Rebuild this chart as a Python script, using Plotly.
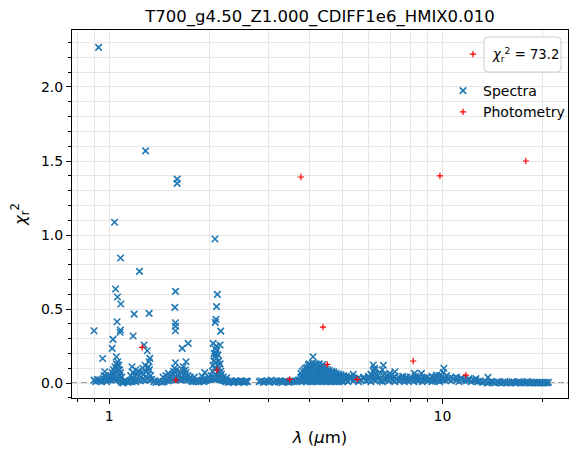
import plotly.graph_objects as go

# ---------------- data ----------------
# baseline of the spectral chi^2 (dense, low values)
wl_seg1 = [0.90, 0.91, 0.92, 0.93, 0.94, 0.95, 0.96, 0.97, 0.98, 0.99, 1.00, 1.01, 1.02, 1.03, 1.04, 1.05,
           1.06, 1.07, 1.08, 1.09, 1.10, 1.11, 1.12, 1.13, 1.14, 1.15, 1.16, 1.17, 1.18, 1.19, 1.20]
chi_seg1 = [0.02, 0.01, 0.025, 0.015, 0.02, 0.01, 0.03, 0.02, 0.01, 0.02, 0.025, 0.02, 0.03, 0.025, 0.03, 0.02,
            0.03, 0.025, 0.015, 0.005, 0.0, 0.01, 0.015, 0.01, 0.005, 0.015, 0.02, 0.01, 0.02, 0.015, 0.01]

wl_seg2 = [1.22, 1.24, 1.26, 1.28, 1.30, 1.32, 1.34,
           1.36, 1.38, 1.40, 1.42, 1.44, 1.46, 1.48, 1.50,
           1.52, 1.54, 1.56, 1.58, 1.60, 1.62, 1.64, 1.66, 1.68, 1.70, 1.72, 1.74, 1.76,
           1.78, 1.80, 1.82, 1.84, 1.86, 1.88, 1.90, 1.92, 1.94, 1.96, 1.98,
           2.00, 2.02, 2.04, 2.06, 2.08, 2.10, 2.12, 2.14, 2.16, 2.18, 2.20,
           2.22, 2.24, 2.26, 2.28, 2.30, 2.32, 2.34, 2.36, 2.38, 2.40, 2.42, 2.44, 2.46, 2.48, 2.50,
           2.52, 2.54, 2.56, 2.58, 2.60]
chi_seg2 = [0.02, 0.015, 0.025, 0.02, 0.03, 0.02, 0.025,
            0.01, 0.005, 0.01, 0.015, 0.005, 0.01, 0.02, 0.015,
            0.02, 0.025, 0.03, 0.02, 0.03, 0.025, 0.02, 0.03, 0.025, 0.03, 0.02, 0.025, 0.015,
            0.01, 0.015, 0.01, 0.02, 0.01, 0.015, 0.02, 0.01, 0.015, 0.02, 0.025,
            0.03, 0.025, 0.03, 0.03, 0.025, 0.03, 0.03, 0.025, 0.03, 0.02, 0.02,
            0.015, 0.01, 0.015, 0.005, 0.01, 0.015, 0.01, 0.005, 0.01, 0.015, 0.01, 0.005, 0.01, 0.015, 0.01,
            0.01, 0.005, 0.01, 0.015, 0.01]

wl_seg3 = [2.82, 2.86, 2.90, 2.94, 2.98, 3.02, 3.06, 3.10, 3.14, 3.18, 3.22, 3.26, 3.30, 3.34, 3.38, 3.42,
           3.46, 3.50, 3.54, 3.58, 3.62, 3.66, 3.70,
           3.74, 3.78, 3.82, 3.86, 3.90, 3.94, 3.98, 4.02, 4.06, 4.10, 4.14, 4.18, 4.22, 4.26, 4.30, 4.34,
           4.38, 4.42, 4.46, 4.50, 4.54, 4.58, 4.62, 4.66, 4.70, 4.74, 4.78, 4.82, 4.86, 4.90, 4.94, 4.98, 5.02]
chi_seg3 = [0.01, 0.015, 0.005, 0.01, 0.015, 0.01, 0.02, 0.01, 0.005, 0.015, 0.01, 0.015, 0.005, 0.01, 0.015,
            0.01, 0.005, 0.01, 0.015, 0.01, 0.015, 0.01, 0.02,
            0.02, 0.01, 0.02, 0.015, 0.01, 0.02, 0.015, 0.01, 0.02, 0.01, 0.015, 0.02, 0.01, 0.015, 0.02, 0.01,
            0.02, 0.015, 0.01, 0.02, 0.015, 0.01, 0.02, 0.01, 0.015, 0.02, 0.01, 0.015, 0.02, 0.01, 0.02, 0.015, 0.01]

wl_seg4 = [5.1, 5.2, 5.3, 5.4, 5.5, 5.6, 5.7, 5.8, 5.9, 6.0, 6.1, 6.2, 6.3, 6.4, 6.5, 6.6, 6.7, 6.8, 6.9, 7.0,
           7.1, 7.2, 7.3, 7.4, 7.5, 7.6, 7.7, 7.8, 7.9, 8.0, 8.1, 8.2, 8.3, 8.4, 8.5, 8.6, 8.7, 8.8, 8.9, 9.0,
           9.1, 9.2, 9.3, 9.4, 9.5, 9.6, 9.7, 9.8, 9.9, 10.0]
chi_seg4 = [0.02, 0.01, 0.03, 0.015, 0.025, 0.01, 0.02, 0.03, 0.015, 0.02,
            0.01, 0.025, 0.02, 0.03, 0.015, 0.01, 0.02, 0.025, 0.015, 0.03,
            0.02, 0.01, 0.025, 0.015, 0.02, 0.03, 0.01, 0.02, 0.015, 0.025,
            0.02, 0.01, 0.03, 0.02, 0.015, 0.025, 0.01, 0.02, 0.03, 0.015,
            0.02, 0.025, 0.01, 0.02, 0.015, 0.03, 0.02, 0.01, 0.025, 0.02]

wl_seg5 = [10.2, 10.4, 10.6, 10.8, 11.0, 11.2, 11.4, 11.6, 11.8, 12.0, 12.2, 12.4, 12.6, 12.8, 13.0,
           13.2, 13.4, 13.6, 13.8, 14.0, 14.2, 14.4, 14.6, 14.8, 15.0, 15.2, 15.4, 15.6, 15.8, 16.0,
           16.2, 16.4, 16.6, 16.8, 17.0, 17.2, 17.4, 17.6, 17.8, 18.0, 18.2, 18.4, 18.6, 18.8, 19.0,
           19.2, 19.4, 19.6, 19.8, 20.0, 20.2, 20.4, 20.6, 20.8]
chi_seg5 = [0.02, 0.025, 0.015, 0.03, 0.02, 0.01, 0.025, 0.02, 0.015, 0.02, 0.01, 0.02, 0.015, 0.01, 0.015,
            0.005, 0.01, 0.0, 0.005, 0.01, 0.005, 0.0, 0.01, 0.005, 0.0,
            0.005, 0.01, 0.0, 0.005, 0.0, 0.01, 0.005, 0.0, 0.005, 0.01,
            0.0, 0.005, 0.0, 0.005, 0.01, 0.0, 0.005, 0.0, 0.005, 0.0,
            0.005, 0.0, 0.005, 0.0, 0.005, 0.0, 0.005, 0.0, 0.005]

# raised spectral points (bands of larger scatter)
raised_wl = [0.965, 0.975, 1.00, 1.01, 1.02, 1.025, 1.03, 1.035, 1.04, 1.045, 1.05, 1.055, 1.06, 1.065, 1.07,
             1.075, 1.08, 1.09,
             1.16, 1.18, 1.19, 1.20, 1.21, 1.22, 1.23, 1.25, 1.26, 1.27, 1.28, 1.29, 1.30, 1.31, 1.32, 1.33,
             1.45, 1.48,
             1.52, 1.55, 1.56, 1.57, 1.58, 1.59, 1.60, 1.62, 1.64, 1.66, 1.68, 1.70, 1.72, 1.75, 1.80, 1.90,
             2.02, 2.04, 2.05, 2.06, 2.065, 2.07, 2.075, 2.08, 2.085, 2.09, 2.095, 2.10, 2.105, 2.11, 2.12,
             2.13, 2.14, 2.15, 2.16, 2.17, 2.08, 2.10, 2.09, 2.12, 2.20, 2.25, 2.06, 2.15,
             3.76, 3.76, 3.80, 3.80, 3.84, 3.84, 3.88, 3.88, 3.88, 3.92, 3.92, 3.92,
             3.96, 3.96, 3.96, 3.96, 4.00, 4.00, 4.00, 4.04, 4.04, 4.04, 4.04, 4.09, 4.09, 4.09,
             4.14, 4.14, 4.14, 4.14, 4.19, 4.19, 4.19, 4.24, 4.24, 4.24, 4.24, 4.29, 4.29, 4.29,
             4.34, 4.34, 4.34, 4.34, 4.40, 4.40, 4.40, 4.46, 4.46, 4.46, 4.52, 4.52, 4.52,
             4.58, 4.58, 4.58, 4.65, 4.65, 4.65, 4.72, 4.72, 4.72, 4.80, 4.80, 4.88, 4.88,
             4.96, 4.96, 5.05, 5.05, 5.15, 5.15, 5.25, 5.35, 5.45,
             3.98, 4.07, 4.17, 4.27, 4.37,
             5.3, 5.6, 5.8, 6.0, 6.1, 6.15, 6.2, 6.25, 6.3, 6.4, 6.5, 6.6, 6.7, 6.8, 6.9, 7.0, 7.2, 7.4,
             7.6, 7.8, 8.0, 8.3, 8.5, 8.8, 9.0, 9.3, 9.5, 9.8, 10.0, 10.3, 10.6, 11.0, 11.4, 12.0, 12.6]
raised_chi = [0.05, 0.045, 0.04, 0.05, 0.07, 0.045, 0.09, 0.06, 0.11, 0.075, 0.13, 0.09, 0.12, 0.06, 0.09,
              0.05, 0.07, 0.04,
              0.05, 0.07, 0.05, 0.09, 0.06, 0.08, 0.05, 0.07, 0.10, 0.06, 0.12, 0.08, 0.10, 0.06, 0.09, 0.05,
              0.04, 0.05,
              0.045, 0.06, 0.08, 0.10, 0.07, 0.09, 0.06, 0.05, 0.07, 0.09, 0.06, 0.07, 0.05, 0.04, 0.04, 0.045,
              0.05, 0.08, 0.12, 0.15, 0.20, 0.10, 0.18, 0.23, 0.14, 0.20, 0.25, 0.17, 0.22, 0.12, 0.19,
              0.15, 0.10, 0.13, 0.08, 0.06, 0.06, 0.05, 0.10, 0.07, 0.04, 0.035, 0.04, 0.04,
              0.04, 0.065, 0.045, 0.08, 0.05, 0.09, 0.04, 0.07, 0.10, 0.045, 0.075, 0.105,
              0.04, 0.07, 0.10, 0.12, 0.045, 0.075, 0.105, 0.04, 0.07, 0.10, 0.12, 0.05, 0.08, 0.11,
              0.04, 0.07, 0.10, 0.125, 0.045, 0.075, 0.105, 0.04, 0.07, 0.10, 0.12, 0.045, 0.075, 0.105,
              0.04, 0.07, 0.10, 0.115, 0.045, 0.075, 0.10, 0.04, 0.07, 0.095, 0.045, 0.075, 0.09,
              0.04, 0.065, 0.085, 0.045, 0.07, 0.08, 0.04, 0.065, 0.075, 0.04, 0.065, 0.035, 0.06,
              0.04, 0.055, 0.035, 0.05, 0.03, 0.045, 0.04, 0.035, 0.03,
              0.13, 0.135, 0.13, 0.13, 0.125,
              0.04, 0.035, 0.04, 0.045, 0.06, 0.05, 0.08, 0.10, 0.06, 0.05, 0.07, 0.09, 0.06, 0.05, 0.04,
              0.05, 0.045, 0.04, 0.045, 0.04, 0.04, 0.045, 0.04, 0.035, 0.04, 0.045, 0.04, 0.05, 0.045,
              0.05, 0.04, 0.04, 0.035, 0.03, 0.03]

# isolated high spectral points
outlier_wl = [0.929, 1.285, 1.598, 1.598, 1.037, 2.076, 1.081, 1.232, 1.044, 1.058, 1.58, 2.11, 1.083, 1.573,
              2.098, 1.187, 1.317, 1.055, 1.58, 1.58, 1.58, 2.09, 2.08, 0.900, 1.08, 1.077, 2.16, 1.179,
              1.026, 1.02, 1.272, 1.30, 1.725, 1.655, 2.05, 2.15, 0.955, 1.05, 1.06, 1.068, 1.072, 0.969,
              1.323, 1.317, 1.31, 1.58, 1.70, 1.666, 1.69, 1.935, 1.505, 1.17, 4.09, 5.40, 6.20, 6.27,
              6.65, 6.95, 7.2, 8.24, 8.65, 9.6, 10.1, 10.05, 13.7]
outlier_chi = [2.268, 1.568, 1.378, 1.349, 1.086, 0.973, 0.845, 0.754, 0.635, 0.581, 0.619, 0.599, 0.534, 0.511,
               0.516, 0.466, 0.471, 0.414, 0.407, 0.385, 0.353, 0.430, 0.410, 0.353, 0.358, 0.343, 0.351, 0.318,
               0.295, 0.234, 0.257, 0.218, 0.268, 0.234, 0.268, 0.257, 0.166, 0.178, 0.144, 0.122, 0.088, 0.076,
               0.167, 0.144, 0.110, 0.137, 0.144, 0.110, 0.088, 0.070, 0.065, 0.110, 0.178, 0.059, 0.122, 0.088,
               0.120, 0.065, 0.076, 0.065, 0.065, 0.054, 0.100, 0.070, 0.038]

# photometry
phot_wl = [1.255, 1.584, 2.105, 3.48, 3.76, 4.38, 4.51, 5.55, 8.17, 9.83, 11.76, 17.8]
phot_chi = [0.241, 0.020, 0.088, 0.025, 1.392, 0.378, 0.126, 0.025, 0.149, 1.399, 0.054, 1.500]

chi2_total = "73.2"
title_text = "T700_g4.50_Z1.000_CDIFF1e6_HMIX0.010"
x_ticks = [1, 10]
x_ticktext = ["1", "10"]
x_minor = [0.8, 0.9, 2, 3, 4, 5, 6, 7, 8, 9, 20]
y_ticks = [0.0, 0.5, 1.0, 1.5, 2.0]
y_ticktext = ["0.0", "0.5", "1.0", "1.5", "2.0"]

# ---------------- figure ----------------
spec_x = wl_seg1 + wl_seg2 + wl_seg3 + wl_seg4 + wl_seg5
spec_y = chi_seg1 + chi_seg2 + chi_seg3 + chi_seg4 + chi_seg5
pairs = list(zip(spec_x, spec_y)) + list(zip(raised_wl, raised_chi)) + list(zip(outlier_wl, outlier_chi))
sx = [p[0] for p in pairs]
sy = [p[1] for p in pairs]

BLUE = "#1f77b4"
FONT = "DejaVu Sans"
W, H = 579, 458
L, R, T, B = 72, 11, 30, 60
PW, PH = W - L - R, H - T - B


def px2paper(px, py):
    return (px - L) / PW, (H - B - py) / PH


fig = go.Figure()
fig.add_trace(go.Scatter(
    x=sx, y=sy, mode="markers", name="Spectra",
    marker=dict(symbol="x-thin", size=6.5, color=BLUE, line=dict(width=1.6, color=BLUE)),
    legend="legend"))
fig.add_trace(go.Scatter(
    x=phot_wl, y=phot_chi, mode="markers", name="Photometry",
    marker=dict(symbol="cross-thin", size=4.5, color="red", line=dict(width=1.2, color="red")),
    legend="legend"))
fig.add_trace(go.Scatter(
    x=[None], y=[None], mode="markers",
    name=f"<i>χ</i><sub>r</sub><sup>2</sup> = {chi2_total}",
    marker=dict(symbol="cross-thin", size=4.5, color="red", line=dict(width=1.2, color="red")),
    legend="legend2"))

# rounded box behind the chi2 label
bx0, by0 = px2paper(484, 72)
bx1, by1 = px2paper(561, 37)
rx, ry = 4 / PW, 4 / PH
box_path = (f"M {bx0+rx},{by0} L {bx1-rx},{by0} Q {bx1},{by0} {bx1},{by0+ry} "
            f"L {bx1},{by1-ry} Q {bx1},{by1} {bx1-rx},{by1} L {bx0+rx},{by1} "
            f"Q {bx0},{by1} {bx0},{by1-ry} L {bx0},{by0+ry} Q {bx0},{by0} {bx0+rx},{by0} Z")

grid_c = "#e6e6e6"
lg1x, lg1y = px2paper(443, 75)
lg2x, lg2y = px2paper(453, 39)

fig.update_layout(
    width=W, height=H,
    margin=dict(l=L, r=R, t=T, b=B, autoexpand=False),
    plot_bgcolor="white", paper_bgcolor="white",
    font=dict(family=FONT, size=14, color="black"),
    title=dict(text=title_text, x=0.5, xref="paper", xanchor="center",
               y=1 - 16 / H, yref="container", yanchor="middle",
               font=dict(size=16.5, color="black")),
    xaxis=dict(type="log", range=[-0.112, 1.377],
               tickmode="array", tickvals=x_ticks, ticktext=x_ticktext,
               ticks="outside", ticklen=5, tickwidth=1, tickcolor="black",
               showline=True, linecolor="black", linewidth=1, mirror=True,
               showgrid=True, gridcolor=grid_c, gridwidth=1, zeroline=False,
               minor=dict(tickmode="array", tickvals=x_minor, ticks="outside", ticklen=3,
                          tickcolor="black", showgrid=True, gridcolor=grid_c, gridwidth=1),
               title=dict(text="<i>λ</i> (<i>μ</i>m)", font=dict(size=16.5), standoff=8)),
    yaxis=dict(range=[-0.101, 2.385],
               tickmode="array", tickvals=y_ticks, ticktext=y_ticktext,
               ticks="outside", ticklen=5, tickwidth=1, tickcolor="black",
               showline=True, linecolor="black", linewidth=1, mirror=True,
               showgrid=True, gridcolor=grid_c, gridwidth=1, zeroline=False,
               minor=dict(tickmode="linear", tick0=0, dtick=0.1, ticks="outside", ticklen=3,
                          tickcolor="black", showgrid=True, gridcolor=grid_c, gridwidth=1),
               title=dict(text="<i>χ</i><sub>r</sub><sup>2</sup>", font=dict(size=16.5), standoff=10)),
    legend=dict(x=lg1x, y=lg1y, xanchor="left", yanchor="top", bgcolor="rgba(0,0,0,0)",
                borderwidth=0, font=dict(size=14), tracegroupgap=0),
    legend2=dict(x=lg2x, y=lg2y, xanchor="left", yanchor="top", bgcolor="rgba(0,0,0,0)",
                 borderwidth=0, font=dict(size=13.2)),
    shapes=[
        dict(type="line", xref="paper", yref="y", x0=0, x1=1, y0=0, y1=0,
             line=dict(color="#808080", width=1.5, dash="6px,3px"), layer="between"),
        dict(type="path", xref="paper", yref="paper", path=box_path,
             fillcolor="white", line=dict(color="#cccccc", width=1), layer="above"),
    ],
)

fig.write_html("out.html")
